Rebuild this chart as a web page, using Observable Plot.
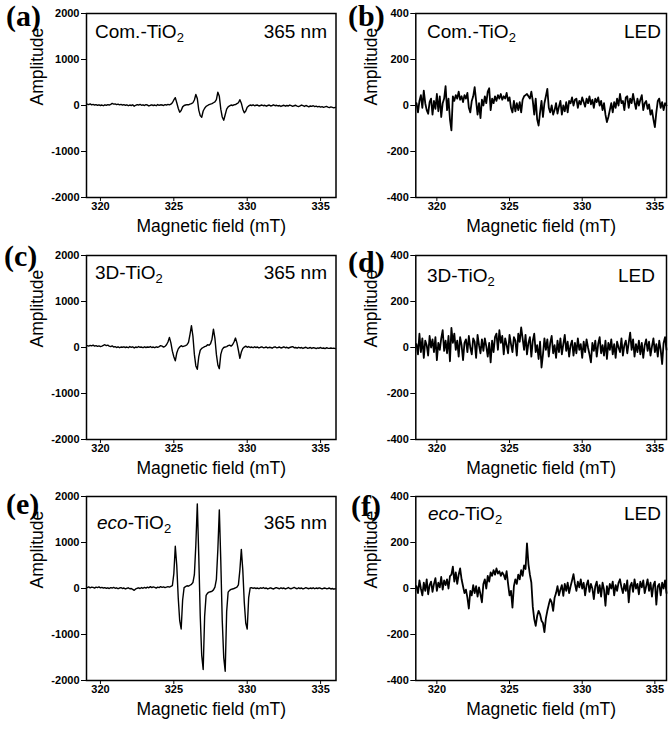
<!DOCTYPE html>
<html><head><meta charset="utf-8">
<script src="https://cdn.jsdelivr.net/npm/d3@7"></script>
<script src="https://cdn.jsdelivr.net/npm/@observablehq/plot@0.6"></script>
<style>
body{margin:0;background:#fff;}
#fig{position:relative;width:672px;height:730px;overflow:hidden;background:#fff;}
.cell{position:absolute;}
</style></head><body><div id="fig"></div><script>
// ---- sampling grids (mT), 0.1 mT step ----
const fieldUV  = d3.range(170).map(i => +(319.1 + 0.1 * i).toFixed(1));
const fieldLED = d3.range(173).map(i => +(318.6 + 0.1 * i).toFixed(1));
const fieldTicks = [320, 325, 330, 335];
const ampTicksUV = [-2000, -1000, 0, 1000, 2000];
const ampTicksLED = [-400, -200, 0, 200, 400];

// (a) Com.-TiO2, 365 nm
const ampA = [30,20,35,15,25,10,20,5,15,0,
 10,-5,15,5,20,10,25,45,30,35,
 20,30,15,25,10,20,5,15,-5,10,
 0,15,-15,5,20,10,25,5,15,0,
 20,10,-10,5,15,0,10,-5,20,5,
 15,10,0,20,10,25,15,30,60,120,
 170,60,-60,-145,-110,-30,0,10,20,15,
 30,40,60,120,240,150,-100,-220,-255,-120,
 -60,-20,0,20,30,40,60,80,130,290,
 200,-80,-250,-320,-200,-80,-30,-10,10,0,
 15,20,40,60,125,50,-80,-160,-120,-40,
 -10,10,0,15,-5,5,10,-10,0,10,
 -5,5,-15,0,10,-10,0,15,-5,5,
 -10,0,-20,-5,5,-15,0,-10,10,-5,
 -20,-5,5,-15,-25,-10,10,-5,-20,0,
 -15,-30,-10,-20,-5,-25,-15,-30,-20,-35,
 -25,-40,-30,-20,-35,-45,-30,-40,-50,-40];
// (b) Com.-TiO2, LED
const ampB = [10,-30,20,45,-10,65,10,-20,-36,15,
 30,-40,20,-15,50,-25,40,-50,10,30,
 84,-20,30,-60,-108,40,20,45,30,60,
 25,40,15,45,30,55,-10,-30,20,40,
 80,20,-40,10,-55,25,0,40,10,60,
 75,-20,30,10,40,20,45,30,50,25,
 40,30,55,20,35,-10,-30,20,-25,10,
 -20,15,-30,25,40,45,50,40,30,60,
 20,-40,30,-60,-87,-30,20,-50,10,40,
 72,-10,-30,0,-40,-20,10,-35,-5,20,
 -40,0,-25,15,-30,20,10,35,0,25,
 30,-10,20,5,35,15,-5,30,10,40,
 5,25,-10,30,15,35,0,20,-20,10,
 -40,-72,-50,-20,10,-30,15,-10,30,0,
 50,10,20,-20,35,40,-10,30,10,50,
 15,-15,30,0,25,45,-20,10,20,-15,
 5,-40,-20,-60,-94,-30,20,30,-10,15,
 -20,10,0];
// (c) 3D-TiO2, 365 nm
const ampC = [40,30,45,35,50,30,40,25,35,20,
 30,45,60,40,50,30,20,35,10,20,
 0,15,-5,10,5,15,0,10,-5,20,
 5,15,-10,10,0,20,5,10,-5,15,
 0,10,5,20,0,10,-5,15,5,20,
 40,30,10,25,60,120,220,100,-80,-200,
 -290,-120,-30,10,40,20,30,40,60,110,
 280,475,250,-150,-400,-475,-200,-60,-20,0,
 20,30,60,50,80,180,400,200,-150,-380,
 -460,-150,-40,0,10,20,40,50,30,60,
 120,205,100,-60,-235,-100,-20,10,30,5,
 20,0,10,-5,15,0,10,-10,5,15,
 -5,0,10,-10,5,0,-15,5,15,-5,
 0,10,-10,0,15,-5,5,-15,0,10,
 20,-5,0,-15,5,-10,0,-20,-5,5,
 -15,-10,0,-20,-5,-10,-25,-10,-15,0,
 -20,-10,-25,-5,-15,-20,-10,-20,-15,-25];
// (d) 3D-TiO2, LED
const ampD = [15,-30,60,-20,40,-45,30,10,-35,50,
 0,35,-20,45,-55,20,-10,40,75,-15,
 30,-25,50,-60,85,20,60,-10,30,-40,
 45,10,-55,20,35,-20,50,0,-30,40,
 25,-45,55,10,-25,35,-15,40,5,-40,
 20,-65,30,-20,45,60,-10,75,20,50,
 -30,40,10,-25,55,15,-20,45,30,-35,
 60,25,87,40,-10,55,-30,20,45,-40,
 30,60,-20,10,-50,25,-87,-30,40,-10,
 35,-40,20,50,-25,10,-45,30,-20,40,
 -30,15,55,-15,25,-40,10,30,-35,20,
 -25,40,-10,15,-45,25,-20,35,0,-30,
 -65,20,-15,30,-40,15,45,-25,10,-35,
 30,-50,20,-10,35,-30,15,-45,25,0,
 -20,40,-35,10,30,-25,20,65,-10,35,
 -40,15,-20,30,-30,20,-45,10,35,-15,
 25,-35,5,40,-20,15,-40,30,-10,-72,
 20,45,-10];
// (e) eco-TiO2, 365 nm
const ampE = [20,35,15,30,25,10,30,20,35,15,
 25,10,20,5,15,0,20,10,25,5,
 15,-5,10,20,0,10,-10,5,15,-5,
 0,-20,-40,-10,5,15,0,20,5,25,
 10,30,15,40,20,35,25,10,30,20,
 40,25,35,20,30,40,30,45,60,320,
 920,500,-200,-700,-880,-250,20,40,60,50,
 70,90,130,300,950,1840,700,-600,-1450,-1760,
 -600,-150,-100,-80,-70,-60,-30,30,200,850,
 1710,600,-700,-1500,-1800,-500,-80,-40,-20,-10,
 0,15,30,80,400,850,400,-300,-750,-880,
 -200,10,20,5,15,0,10,-5,15,5,
 20,0,10,-10,5,15,0,-10,10,20,
 5,-5,15,0,10,-10,5,20,0,-5,
 10,25,5,-5,15,0,10,-10,5,20,
 5,-5,10,0,15,-5,10,0,15,5,
 -10,5,10,-5,0,10,-10,0,-15,-5];
// (f) eco-TiO2, LED
const ampF = [10,-20,35,0,-30,25,-10,40,-25,15,
 30,-15,20,45,-10,25,5,50,-5,35,
 15,40,0,54,60,95,30,70,20,60,
 87,40,10,-20,-5,-40,-87,-10,-30,15,
 -20,10,-35,5,-25,-60,20,40,0,55,
 30,70,55,80,60,87,65,75,55,70,
 60,40,75,20,-30,-10,-83,10,40,20,
 60,40,80,55,100,85,196,106,60,26,
 -80,-133,-162,-120,-97,-112,-140,-150,-190,-130,
 -97,-70,-46,-60,-97,-40,-20,10,-30,-5,
 15,-32,20,-10,25,-20,10,35,62,20,
 -10,30,5,40,0,25,-30,15,35,-15,
 20,0,-46,10,30,-20,15,-35,25,-5,
 -75,10,-25,20,0,30,-30,15,-10,25,
 40,5,-20,20,-10,35,-60,10,25,-15,
 40,0,20,-25,30,5,35,-20,10,40,
 -10,25,-35,15,30,-70,10,20,-30,25,
 0,35,-20];

const panels = [
 {letter:"(a)", amp:ampA, field:fieldUV,  col:0,row:0, ital:"",    name:"Com.-TiO", light:"365 nm", L:[6,26],   S:[95,38],   R:[327,38]},
 {letter:"(b)", amp:ampB, field:fieldLED, col:1,row:0, ital:"",    name:"Com.-TiO", light:"LED",    L:[348,26], S:[427,37.5],R:[661,37.5]},
 {letter:"(c)", amp:ampC, field:fieldUV,  col:0,row:1, ital:"",    name:"3D-TiO",   light:"365 nm", L:[4,266],  S:[95,279],  R:[327,279]},
 {letter:"(d)", amp:ampD, field:fieldLED, col:1,row:1, ital:"",    name:"3D-TiO",   light:"LED",    L:[348,272],S:[427,281.5],R:[655,281.5]},
 {letter:"(e)", amp:ampE, field:fieldUV,  col:0,row:2, ital:"eco", name:"-TiO",     light:"365 nm", L:[6,514],  S:[97,529],  R:[327,529]},
 {letter:"(f)", amp:ampF, field:fieldLED, col:1,row:2, ital:"eco", name:"-TiO",     light:"LED",    L:[351,516],S:[428,520], R:[661,520]}
];

const rowTop = [0, 242, 483];
const fig = document.getElementById("fig");
const FONT = "'Liberation Sans', Arial, Helvetica, sans-serif";

for (const p of panels) {
  const uv = p.col === 0;
  const svg = Plot.plot({
    width: uv ? 340 : 336,
    height: 243,
    marginLeft: uv ? 86 : 79.3,
    marginRight: uv ? 4.5 : 6,
    marginTop: 13,
    marginBottom: 46,
    style: {fontFamily: FONT, background: "transparent", overflow: "visible", color: "black"},
    x: {domain: uv ? [319.05, 336.05] : [318.55, 335.8]},
    y: {domain: uv ? [-2000, 2000] : [-400, 400]},
    marks: [
      Plot.line(p.amp, {x: (d, i) => p.field[i], y: d => d, stroke: "black", strokeWidth: uv ? 1.4 : 1.8, strokeLinejoin: "round"}),
      Plot.frame({stroke: "black", strokeWidth: 1.5}),
      Plot.axisX({ticks: fieldTicks, tickSize: 4, tickPadding: 1, tickFormat: d => String(d), fontSize: 11, fontWeight: "bold", label: null}),
      Plot.axisY({ticks: uv ? ampTicksUV : ampTicksLED, tickSize: 5, tickPadding: 2, tickFormat: d => String(d), fontSize: 11, fontWeight: "bold", label: null}),
      Plot.text(["Magnetic field (mT)"], {frameAnchor: "bottom", dy: 34.5, fontSize: 17.5}),
      Plot.text(["Amplitude"], {frameAnchor: "left", dx: uv ? -49.5 : -44.8, rotate: -90, fontSize: 17.5})
    ]
  });
  const cell = document.createElement("div");
  cell.className = "cell";
  cell.style.left = (p.col === 0 ? 0 : 336) + "px";
  cell.style.top = rowTop[p.row] + "px";
  cell.appendChild(svg);
  fig.appendChild(cell);
}

// annotation overlay (panel letters, sample names, light sources)
const ov = d3.select(fig).append("svg")
  .attr("width", 672).attr("height", 730)
  .style("position", "absolute").style("left", "0px").style("top", "0px")
  .style("pointer-events", "none");
for (const p of panels) {
  ov.append("text").attr("x", p.L[0]).attr("y", p.L[1])
    .attr("font-family", "'Liberation Serif', 'Times New Roman', serif")
    .attr("font-weight", "bold").attr("font-size", 30).text(p.letter);
  const t = ov.append("text").attr("x", p.S[0]).attr("y", p.S[1])
    .attr("font-family", FONT).attr("font-size", 19);
  if (p.ital) t.append("tspan").attr("font-style", "italic").text(p.ital);
  t.append("tspan").text(p.name);
  t.append("tspan").attr("font-size", 13).attr("dy", 4).text("2");
  ov.append("text").attr("x", p.R[0]).attr("y", p.R[1])
    .attr("font-family", FONT).attr("font-size", 19)
    .attr("text-anchor", "end").text(p.light);
}
</script></body></html>
